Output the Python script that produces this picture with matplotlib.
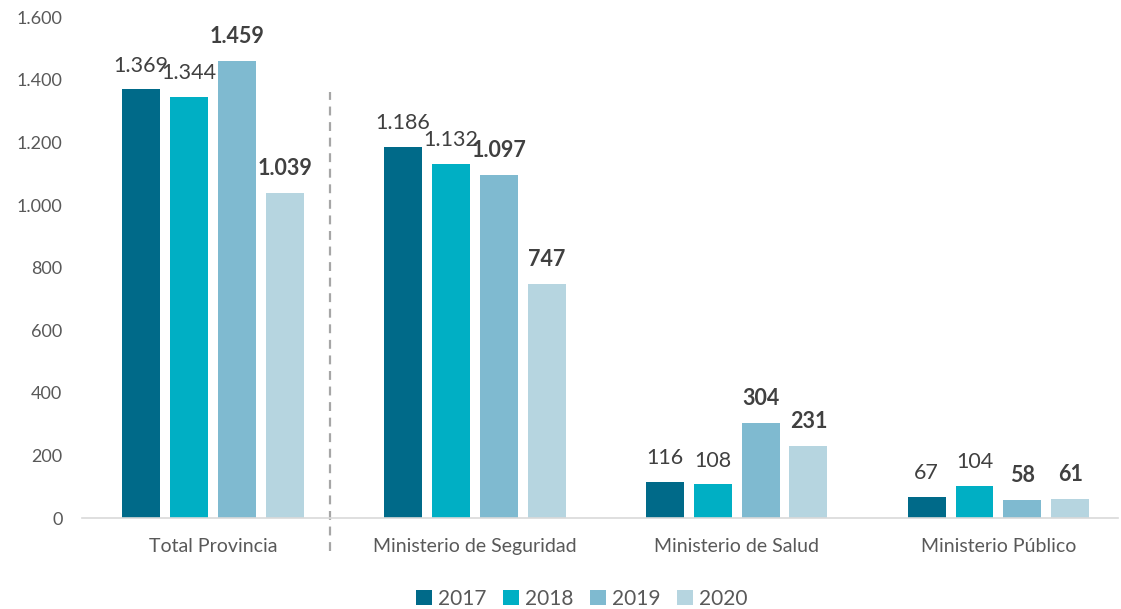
import numpy as np
import matplotlib.pyplot as plt
from matplotlib.ticker import FuncFormatter

categorias = ["Total Provincia", "Ministerio de Seguridad", "Ministerio de Salud", "Ministerio Público"]
anios = ["2017", "2018", "2019", "2020"]
v2017 = [1369, 1186, 116, 67]
v2018 = [1344, 1132, 108, 104]
v2019 = [1459, 1097, 304, 58]
v2020 = [1039, 747, 231, 61]

series = [v2017, v2018, v2019, v2020]
colores = ["#006A89", "#00AFC4", "#7FBAD0", "#B6D5E0"]
negrita = [False, False, True, True]

plt.rcParams["font.family"] = ["Lato", "DejaVu Sans"]

fig = plt.figure(figsize=(11.21, 6.09), dpi=100)
ax = fig.add_axes([0.073, 0.149, 0.924, 0.823])

x = np.arange(len(categorias))
ancho = 0.145
paso = 0.183

def fmt_miles(v):
    return f"{int(round(v)):,}".replace(",", ".")

for i, (vals, col) in enumerate(zip(series, colores)):
    pos = x + (i - 1.5) * paso
    barras = ax.bar(pos, vals, width=ancho, color=col, label=anios[i])
    for b, v in zip(barras, vals):
        ax.annotate(fmt_miles(v), (b.get_x() + b.get_width() / 2, v),
                    xytext=(0, 10), textcoords="offset points",
                    ha="center", va="bottom", fontsize=15.5,
                    color="#404040",
                    fontweight="bold" if negrita[i] else "normal")

ax.set_xlim(-0.5, 3.455)
ax.set_ylim(0, 1600)
ax.set_yticks(range(0, 1601, 200))
ax.yaxis.set_major_formatter(FuncFormatter(lambda v, p: fmt_miles(v)))
ax.set_xticks(x)
ax.set_xticklabels(categorias)
ax.tick_params(axis="x", length=0, labelsize=14, colors="#595959", pad=14)
ax.tick_params(axis="y", length=0, labelsize=13, colors="#595959", pad=14)

for s in ["top", "right", "left"]:
    ax.spines[s].set_visible(False)
ax.spines["bottom"].set_color("#D9D9D9")
ax.spines["bottom"].set_linewidth(1.2)

# separador punteado
ax.plot([0.447, 0.447], [-105, 1360], linestyle=(0, (4, 3)), color="#A6A6A6",
        linewidth=1.6, clip_on=False)

leg = ax.legend(loc="lower center", bbox_to_anchor=(0.483, -0.218), ncol=4,
                frameon=False, fontsize=15, handlelength=0.75, handleheight=0.75,
                handletextpad=0.3, columnspacing=0.8)
for t in leg.get_texts():
    t.set_color("#595959")

fig.savefig("out.png", dpi=100)
